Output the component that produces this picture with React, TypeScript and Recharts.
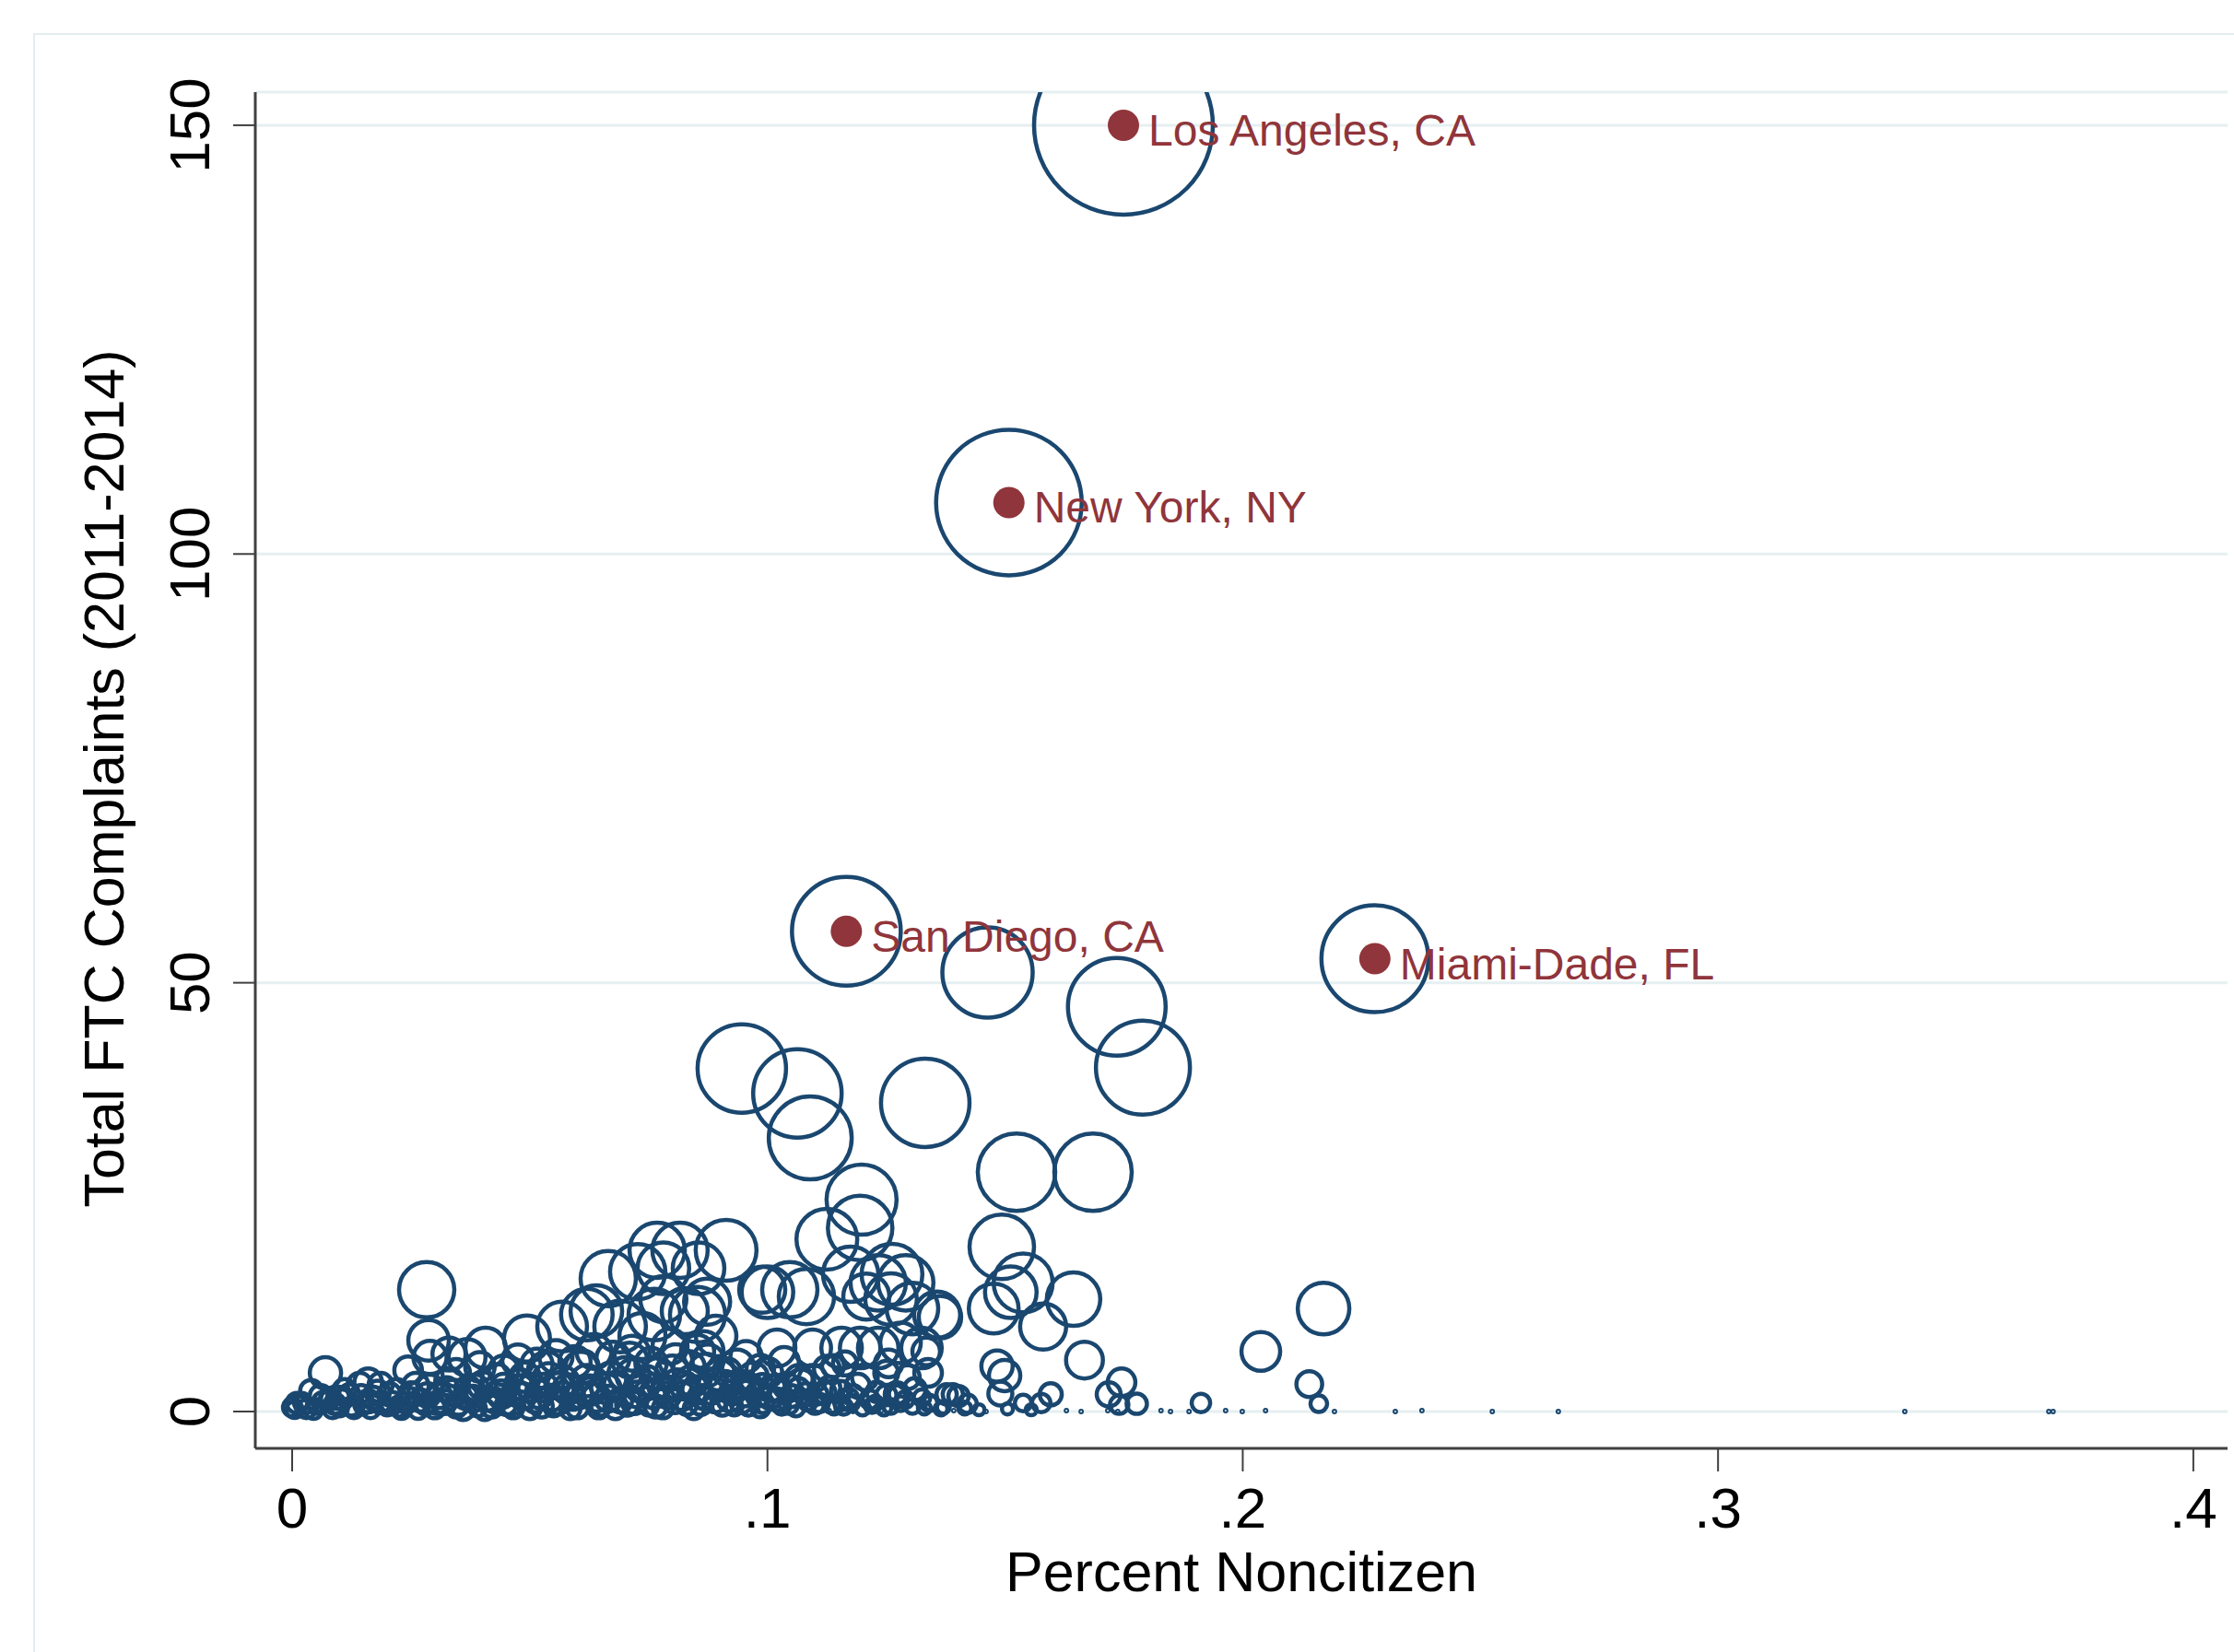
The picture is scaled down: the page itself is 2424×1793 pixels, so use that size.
import React from 'react';
import { ScatterChart, Scatter, XAxis, YAxis, ZAxis, CartesianGrid } from 'recharts';

// Percent noncitizen (x), total FTC complaints 2011-2014 (y), population weight in thousands (bubble area)
const pctNoncitizen = [
  0.1749, 0.1508, 0.1166, 0.2278, 0.1463, 0.1735, 0.179, 0.0946, 0.1063, 0.109,
  0.1332, 0.1524, 0.1685, 0.1493, 0.1198, 0.1195, 0.1125, 0.0913, 0.1538, 0.1476,
  0.1512, 0.1644, 0.158, 0.1667, 0.217, 0.2038, 0.214, 0.216, 0.1912, 0.1745,
  0.1718, 0.174, 0.1777, 0.1483, 0.1499, 0.149, 0.1596, 0.1576, 0.1538, 0.134,
  0.1377, 0.139, 0.1402, 0.1421, 0.1338, 0.1363, 0.1334, 0.1175, 0.1262, 0.1233,
  0.1291, 0.1357, 0.1305, 0.126, 0.1208, 0.0768, 0.0816, 0.0855, 0.0781, 0.1,
  0.1047, 0.1082, 0.0989, 0.102, 0.1095, 0.1066, 0.1095, 0.1156, 0.1195, 0.1233,
  0.128, 0.1324, 0.1156, 0.1227, 0.1272, 0.1343, 0.0781, 0.0826, 0.0873, 0.0892,
  0.0853, 0.0807, 0.0936, 0.0961, 0.0989, 0.0903, 0.0283, 0.0287, 0.007, 0.004,
  0.016, 0.0142, 0.0186, 0.0097, 0.0244, 0.029, 0.033, 0.0368, 0.0407, 0.0494,
  0.0568, 0.062, 0.0665, 0.0727, 0.064, 0.069, 0.0762, 0.0853, 0.0737, 0.0535,
  0.0607, 0.0717, 0.0865, 0.1138, 0.1163, 0.1205, 0.125,
];

const ftcComplaints = [
  150, 106, 56, 52.8, 51.2, 47.2, 40.1, 40.0, 37.1, 31.9,
  36.0, 27.9, 27.9, 19.2, 24.7, 21.4, 20.1, 18.8, 15.0, 12.0,
  13.9, 13.1, 9.9, 6.0, 12.0, 7.0, 3.2, 0.9, 1.0, 3.4,
  2.0, 0.8, 0.9, 5.3, 4.2, 2.1, 2.0, 1.0, 1.0, 1.0,
  2.0, 2.0, 1.8, 0.9, 4.5, 11.0, 7.0, 16.0, 16.0, 15.0,
  15.0, 11.3, 12.0, 13.1, 13.4, 18.8, 18.8, 16.7, 16.7, 13.9,
  14.2, 13.4, 14.2, 7.4, 7.4, 3.8, 3.8, 7.4, 7.4, 7.4,
  8.0, 7.4, 1.0, 1.0, 2.0, 1.0, 13.1, 11.7, 12.8, 8.8,
  7.0, 5.9, 5.3, 3.1, 3.1, 3.1, 14.2, 8.3, 4.5, 2.4,
  3.4, 3.1, 3.1, 1.6, 4.8, 6.3, 6.7, 6.3, 7.4, 8.5,
  9.9, 11.3, 15.5, 16.3, 11.7, 9.9, 11.3, 11.3, 8.8, 4.8,
  4.8, 4.2, 7.0, 5.3, 5.6, 4.0, 4.5,
];

const population = [
  10000, 6633, 3700, 3575, 2552, 2985, 2764, 2449, 2449, 2152,
  2449, 1875, 1875, 1302, 1535, 1302, 1157, 1157, 1088, 775,
  833, 894, 664, 425, 833, 469, 208, 86, 106, 239,
  180, 106, 129, 307, 307, 180, 153, 106, 86, 86,
  129, 129, 129, 106, 239, 562, 239, 957, 1157, 957,
  957, 664, 833, 833, 664, 957, 957, 833, 833, 833,
  957, 957, 664, 425, 425, 239, 239, 514, 514, 514,
  514, 514, 68, 68, 180, 68, 664, 664, 664, 514,
  344, 344, 344, 153, 153, 208, 957, 514, 307, 153,
  239, 180, 180, 153, 239, 344, 344, 425, 514, 664,
  775, 833, 957, 957, 833, 833, 833, 957, 664, 425,
  425, 344, 514, 153, 180, 208, 180,
];

// Small counties packed along the bottom
const smallNoncitizen = [
  0.000, 0.002, 0.005, 0.008, 0.010, 0.012, 0.015, 0.017, 0.020, 0.022,
  0.024, 0.026, 0.028, 0.031, 0.033, 0.035, 0.037, 0.039, 0.041, 0.043,
  0.045, 0.047, 0.049, 0.051, 0.053, 0.055, 0.057, 0.059, 0.061, 0.063,
  0.065, 0.067, 0.069, 0.071, 0.073, 0.075, 0.077, 0.079, 0.081, 0.083,
  0.085, 0.087, 0.089, 0.091, 0.093, 0.095, 0.097, 0.099, 0.101, 0.103,
  0.105, 0.107, 0.110, 0.112, 0.114, 0.117, 0.119, 0.122, 0.125, 0.128, 0.131,
  0.001, 0.003, 0.006, 0.009, 0.011, 0.013, 0.016, 0.018, 0.021, 0.023,
  0.025, 0.027, 0.029, 0.030, 0.032, 0.034, 0.036, 0.038, 0.040, 0.042,
  0.044, 0.046, 0.048, 0.050, 0.052, 0.054, 0.056, 0.058, 0.060, 0.062,
  0.064, 0.066, 0.068, 0.070, 0.072, 0.074, 0.076, 0.078, 0.080, 0.082,
  0.084, 0.086, 0.088, 0.090, 0.092, 0.094, 0.096, 0.098, 0.100, 0.102,
  0.104, 0.106, 0.108, 0.111, 0.113, 0.116, 0.118, 0.120, 0.123, 0.126,
  0.129, 0.133, 0.137,
];

const smallComplaints = [
  0.5, 1.2, 0.6, 1.5, 0.4, 2.0, 0.8, 1.6, 0.5, 2.4,
  1.0, 3.0, 0.7, 1.8, 3.5, 0.9, 2.6, 0.4, 1.5, 3.8,
  0.8, 2.2, 4.0, 1.2, 2.8, 0.5, 3.4, 1.6, 5.2, 2.4,
  0.7, 3.9, 1.3, 6.0, 2.8, 0.6, 4.4, 1.9, 3.2, 0.8,
  2.5, 4.8, 1.2, 3.0, 0.5, 2.1, 4.0, 1.0, 2.7, 0.6,
  1.8, 3.3, 0.8, 2.2, 0.5, 1.5, 3.0, 0.7, 1.9, 0.9, 2.6,
  1.0, 0.3, 1.8, 0.9, 2.5, 0.3, 1.2, 2.2, 1.0, 0.2,
  2.0, 1.3, 2.8, 0.4, 1.1, 2.2, 0.3, 1.5, 3.0, 0.6,
  2.0, 1.0, 3.2, 0.4, 2.0, 3.8, 1.2, 2.6, 0.5, 3.6,
  1.6, 2.7, 0.4, 4.4, 1.2, 3.0, 2.0, 0.4, 4.6, 1.8,
  3.5, 0.9, 2.6, 4.2, 1.4, 3.2, 0.6, 2.0, 4.5, 1.4,
  3.0, 0.4, 2.0, 1.0, 2.8, 0.6, 1.9, 0.4, 2.3, 0.6,
  1.4, 0.4, 0.5,
];

const smallPopulation = [
  106, 86, 68, 106, 86, 129, 106, 153, 86, 180,
  129, 208, 106, 180, 239, 153, 208, 86, 180, 272,
  129, 208, 272, 153, 239, 106, 307, 180, 344, 239,
  129, 307, 180, 384, 239, 106, 307, 208, 272, 129,
  239, 344, 153, 272, 86, 208, 272, 129, 208, 86,
  153, 239, 106, 153, 68, 129, 180, 68, 129, 68, 153,
  129, 106, 153, 129, 153, 106, 153, 180, 153, 106,
  180, 153, 208, 129, 180, 208, 153, 208, 239, 153,
  239, 180, 272, 153, 239, 307, 208, 272, 153, 307,
  239, 272, 153, 344, 208, 272, 239, 129, 344, 239,
  307, 153, 272, 307, 180, 239, 106, 180, 272, 153,
  208, 86, 153, 106, 153, 86, 129, 68, 129, 68,
  86, 52, 52,
];

// Further small counties filling the dense band
const denseNoncitizen = [
  0.0005, 0.0025, 0.0045, 0.0065, 0.0085, 0.0105, 0.0125, 0.0145, 0.0165, 0.0185,
  0.0205, 0.0225, 0.0245, 0.0265, 0.0285, 0.0305, 0.0325, 0.0345, 0.0365, 0.0385,
  0.0405, 0.0425, 0.0445, 0.0465, 0.0485, 0.0505, 0.0525, 0.0545, 0.0565, 0.0585,
  0.0605, 0.0625, 0.0645, 0.0665, 0.0685, 0.0705, 0.0725, 0.0745, 0.0765, 0.0785,
  0.0805, 0.0825, 0.0845, 0.0865, 0.0885, 0.0905, 0.0925, 0.0945, 0.0965, 0.0985,
  0.1005, 0.1025, 0.1045, 0.1065, 0.1085, 0.1105, 0.1135, 0.1155, 0.1175, 0.1215,
  0.1245, 0.1275, 0.1305, 0.1325, 0.1365, 0.1415, 0.1445, 0.1505, 0.1555,
  0.0345, 0.0395, 0.0445, 0.0475, 0.0515, 0.0555, 0.0595, 0.0635, 0.0675, 0.0715,
  0.0755, 0.0795, 0.0835, 0.0875, 0.0915, 0.0955, 0.0985, 0.1035, 0.1125, 0.1255, 0.1295,
];

const denseComplaints = [
  0.2, 0.8, 0.1, 1.1, 0.3, 1.4, 0.6, 1.8, 0.3, 1.0,
  2.0, 0.6, 1.5, 0.2, 1.9, 1.0, 2.6, 0.5, 1.7, 2.8,
  0.2, 1.3, 2.9, 0.4, 1.8, 2.8, 0.6, 1.6, 3.0, 0.3,
  1.9, 2.6, 0.5, 1.5, 3.1, 0.8, 2.0, 3.6, 0.6, 2.4,
  1.2, 3.0, 0.3, 1.7, 3.4, 0.7, 2.2, 1.1, 2.9, 0.4,
  1.6, 2.4, 0.8, 2.6, 1.2, 2.0, 0.8, 2.4, 1.0, 1.4,
  0.4, 2.0, 0.6, 1.6, 0.3, 0.4, 0.2, 0.3, 0.2,
  4.5, 5.2, 4.8, 6.0, 5.5, 6.4, 5.8, 7.0, 6.2, 6.8,
  5.6, 7.6, 5.2, 6.0, 4.6, 6.4, 5.0, 5.8, 5.0, 5.6, 4.0,
];

const densePopulation = [
  86, 106, 86, 129, 106, 129, 106, 153, 106, 129,
  153, 129, 153, 106, 180, 153, 180, 129, 180, 208,
  129, 180, 208, 129, 208, 239, 153, 208, 239, 129,
  208, 239, 153, 208, 239, 153, 208, 272, 153, 208,
  180, 239, 129, 180, 239, 129, 180, 153, 180, 106,
  153, 153, 106, 153, 106, 129, 86, 129, 86, 106,
  68, 106, 68, 86, 52, 52, 38, 38, 38,
  239, 272, 272, 307, 307, 344, 307, 384, 344, 384,
  307, 384, 307, 307, 239, 307, 239, 272, 208, 239, 180,
];

// Near-zero specks
const speckNoncitizen = [
  0.098, 0.104, 0.108, 0.113, 0.118, 0.121, 0.124, 0.1357, 0.1392, 0.146,
  0.1629, 0.166, 0.1716, 0.1737, 0.1828, 0.1848, 0.1887, 0.1964, 0.1999, 0.2048,
  0.2193, 0.2321, 0.2377, 0.2525, 0.2664, 0.3393, 0.3696, 0.3705,
];
const speckComplaints = [
  0.1, 0.0, 0.2, 0.1, 0.0, 0.2, 0.1, 0.0, 0.1, 0.0,
  0.1, 0.0, 0.1, 0.0, 0.1, 0.0, 0.0, 0.1, 0.0, 0.1,
  0.0, 0.0, 0.1, 0.0, 0.0, 0.0, 0.0, 0.0,
];
const speckPopulation = [
  4, 4, 4, 4, 4, 4, 4, 4, 4, 4,
  4, 4, 4, 4, 4, 4, 4, 4, 4, 4,
  4, 4, 4, 4, 4, 4, 4, 4,
];

const cityNames = ['Los Angeles, CA', 'New York, NY', 'San Diego, CA', 'Miami-Dade, FL'];
const cityPctNoncitizen = [0.1749, 0.1508, 0.1166, 0.2278];
const cityComplaints = [150, 106, 56, 52.8];

const xTicks = [0, 0.1, 0.2, 0.3, 0.4];
const yTicks = [0, 50, 100, 150];

const toRows = (xs: number[], ys: number[], ps: number[]) => xs.map((x, i) => ({ x, y: ys[i], pop: ps[i] }));
const bubbles = [
  ...toRows(pctNoncitizen, ftcComplaints, population),
  ...toRows(smallNoncitizen, smallComplaints, smallPopulation),
  ...toRows(denseNoncitizen, denseComplaints, densePopulation),
  ...toRows(speckNoncitizen, speckComplaints, speckPopulation),
];
const cities = cityNames.map((name, i) => ({ name, x: cityPctNoncitizen[i], y: cityComplaints[i], pop: 1 }));

const FONT = '"Liberation Sans", Arial, Helvetica, sans-serif';
const NAVY = '#1a476f';
const MAROON = '#90353b';
const AXIS = '#404040';

const fmtX = (v: number) => (v === 0 ? '0' : String(v).replace(/^0/, ''));

const BubbleShape = (props: any) => {
  const { cx, cy } = props;
  if (cx == null || cy == null) return null;
  const r = props.size != null ? Math.sqrt(props.size / Math.PI) : (props.width || 0) / 2;
  const sw = r >= 5 ? 4.5 : 2;
  return <circle cx={cx} cy={cy} r={Math.max(r, 1)} fill="none" stroke={NAVY} strokeWidth={sw} />;
};

const CityShape = (props: any) => {
  const { cx, cy, payload } = props;
  if (cx == null || cy == null) return null;
  return (
    <g>
      <circle cx={cx} cy={cy} r={17} fill={MAROON} />
      <text x={cx + 27} y={cy + 22} fontSize={48} fontFamily={FONT} fill={MAROON}>
        {payload.name}
      </text>
    </g>
  );
};

const XTick = (props: any) => {
  const { x, y, payload } = props;
  return (
    <text x={x} y={y} dy={61} textAnchor="middle" fontSize={62} fontFamily={FONT} fill="#000">
      {fmtX(payload.value)}
    </text>
  );
};

const YTick = (props: any) => {
  const { x, y, payload } = props;
  const tx = x - 48;
  return (
    <text
      x={tx}
      y={y}
      dy="0.36em"
      textAnchor="middle"
      transform={`rotate(-90, ${tx}, ${y})`}
      fontSize={62}
      fontFamily={FONT}
      fill="#000"
    >
      {payload.value}
    </text>
  );
};

const XTitle = (props: any) => {
  const vb = props.viewBox || {};
  const cx = (vb.x || 0) + (vb.width || 0) / 2;
  return (
    <text x={cx} y={1727} textAnchor="middle" fontSize={61} fontFamily={FONT} fill="#000">
      Percent Noncitizen
    </text>
  );
};

const YTitle = () => {
  const x = 134;
  const y = 845;
  return (
    <text x={x} y={y} textAnchor="middle" transform={`rotate(-90, ${x}, ${y})`} fontSize={61} fontFamily={FONT} fill="#000">
      Total FTC Complaints (2011-2014)
    </text>
  );
};

export default function App() {
  return (
    <div style={{ position: 'fixed', left: 0, top: 0, width: 2424, height: 1793, background: '#fff', overflow: 'hidden' }}>
      <div
        style={{
          position: 'absolute',
          left: 36,
          top: 36,
          width: 2424 - 36,
          height: 1793 - 36,
          borderTop: '2px solid #e3edef',
          borderLeft: '2px solid #e3edef',
          boxSizing: 'border-box',
        }}
      />
      <div style={{ position: 'absolute', left: 0, top: 0 }}>
        <ScatterChart width={2424} height={1793} margin={{ top: 100, right: 7, bottom: 0, left: 0 }}>
          <CartesianGrid vertical={false} stroke="#e6eff1" strokeWidth={3} />
          <XAxis
            type="number"
            dataKey="x"
            domain={[-0.00776, 0.4072]}
            ticks={xTicks}
            allowDataOverflow
            height={221}
            tickSize={25}
            tickMargin={0}
            axisLine={{ stroke: AXIS, strokeWidth: 3 }}
            tickLine={{ stroke: AXIS, strokeWidth: 2 }}
            tick={<XTick />}
            label={{ content: (p: any) => <XTitle {...p} /> }}
          />
          <YAxis
            type="number"
            dataKey="y"
            domain={[-4.3, 153.86]}
            ticks={yTicks}
            allowDataOverflow
            width={277}
            tickSize={24}
            tickMargin={0}
            axisLine={{ stroke: AXIS, strokeWidth: 3 }}
            tickLine={{ stroke: AXIS, strokeWidth: 2 }}
            tick={<YTick />}
            label={{ content: () => <YTitle /> }}
          />
          <ZAxis type="number" dataKey="pop" domain={[0, 10000]} range={[0, Math.PI * 97 * 97]} />
          <Scatter data={bubbles} shape={<BubbleShape />} isAnimationActive={false} />
          <Scatter data={cities} shape={<CityShape />} isAnimationActive={false} />
        </ScatterChart>
      </div>
    </div>
  );
}
